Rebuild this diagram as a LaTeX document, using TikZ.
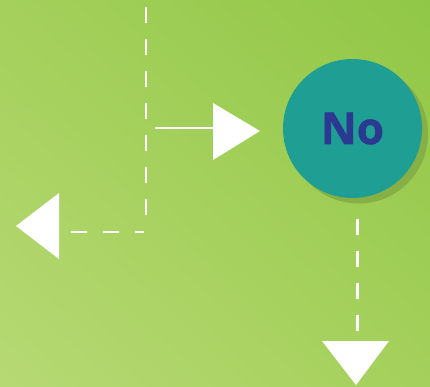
\documentclass[tikz,border=0pt]{standalone}
\usepackage{fontspec}
\newfontfamily\nofont{Open Sans}[BoldFeatures={FakeBold=1.3}]
\usetikzlibrary{shadings}
\definecolor{bgA}{HTML}{B7D974}
\definecolor{bgB}{HTML}{91C746}
\definecolor{bgC}{HTML}{A4D05B}
\definecolor{teal}{HTML}{1F9E94}
\definecolor{shadowgreen}{HTML}{86B045}
\definecolor{navy}{HTML}{2B3990}
\tikzset{
  flowline/.style={white, line width=2.7pt},
  dashflow/.style={flowline, dash pattern=on 16pt off 16pt},
  headfill/.style={fill=white, draw=none},
  decision/.style={circle, fill=teal, minimum size=139pt, inner sep=0pt,
    font=\nofont\bfseries\fontsize{44}{44}\selectfont, text=navy},
}
\begin{document}
\begin{tikzpicture}[x=1pt,y=-1pt]
\useasboundingbox (0,0) rectangle (430,387);
\shade[lower left=bgA, upper right=bgB, upper left=bgC, lower right=bgC]
  (0,387) rectangle (430,0);
% shadow
\fill[shadowgreen] (358.5,134) circle (69.5pt);
\node[decision] (no) at (352.5,128.5) {No};
% coordinates
\coordinate (top) at (146,7);
\coordinate (vend) at (146,215);
\coordinate (hstart) at (144,232);
\coordinate (leftend) at (71,232);
\coordinate (rstart) at (155,127.7);
\coordinate (rend) at (213,127.7);
\coordinate (dstart) at (357.5,219);
\coordinate (dend) at (357.5,331);
% dashed paths
\draw[dashflow] (top) -- (vend);
\draw[dashflow] (leftend) -- (hstart);
\draw[flowline, line width=2.2pt] (rstart) -- (rend);
\draw[dashflow] (dstart) -- (dend);
% heads
\fill[headfill] (59,193) -- (16,226) -- (59,259) -- cycle;
\fill[headfill] (213,103) -- (260,131) -- (213,160) -- cycle;
\fill[headfill] (322,341) -- (389,341) -- (356,385) -- cycle;
\end{tikzpicture}
\end{document}
